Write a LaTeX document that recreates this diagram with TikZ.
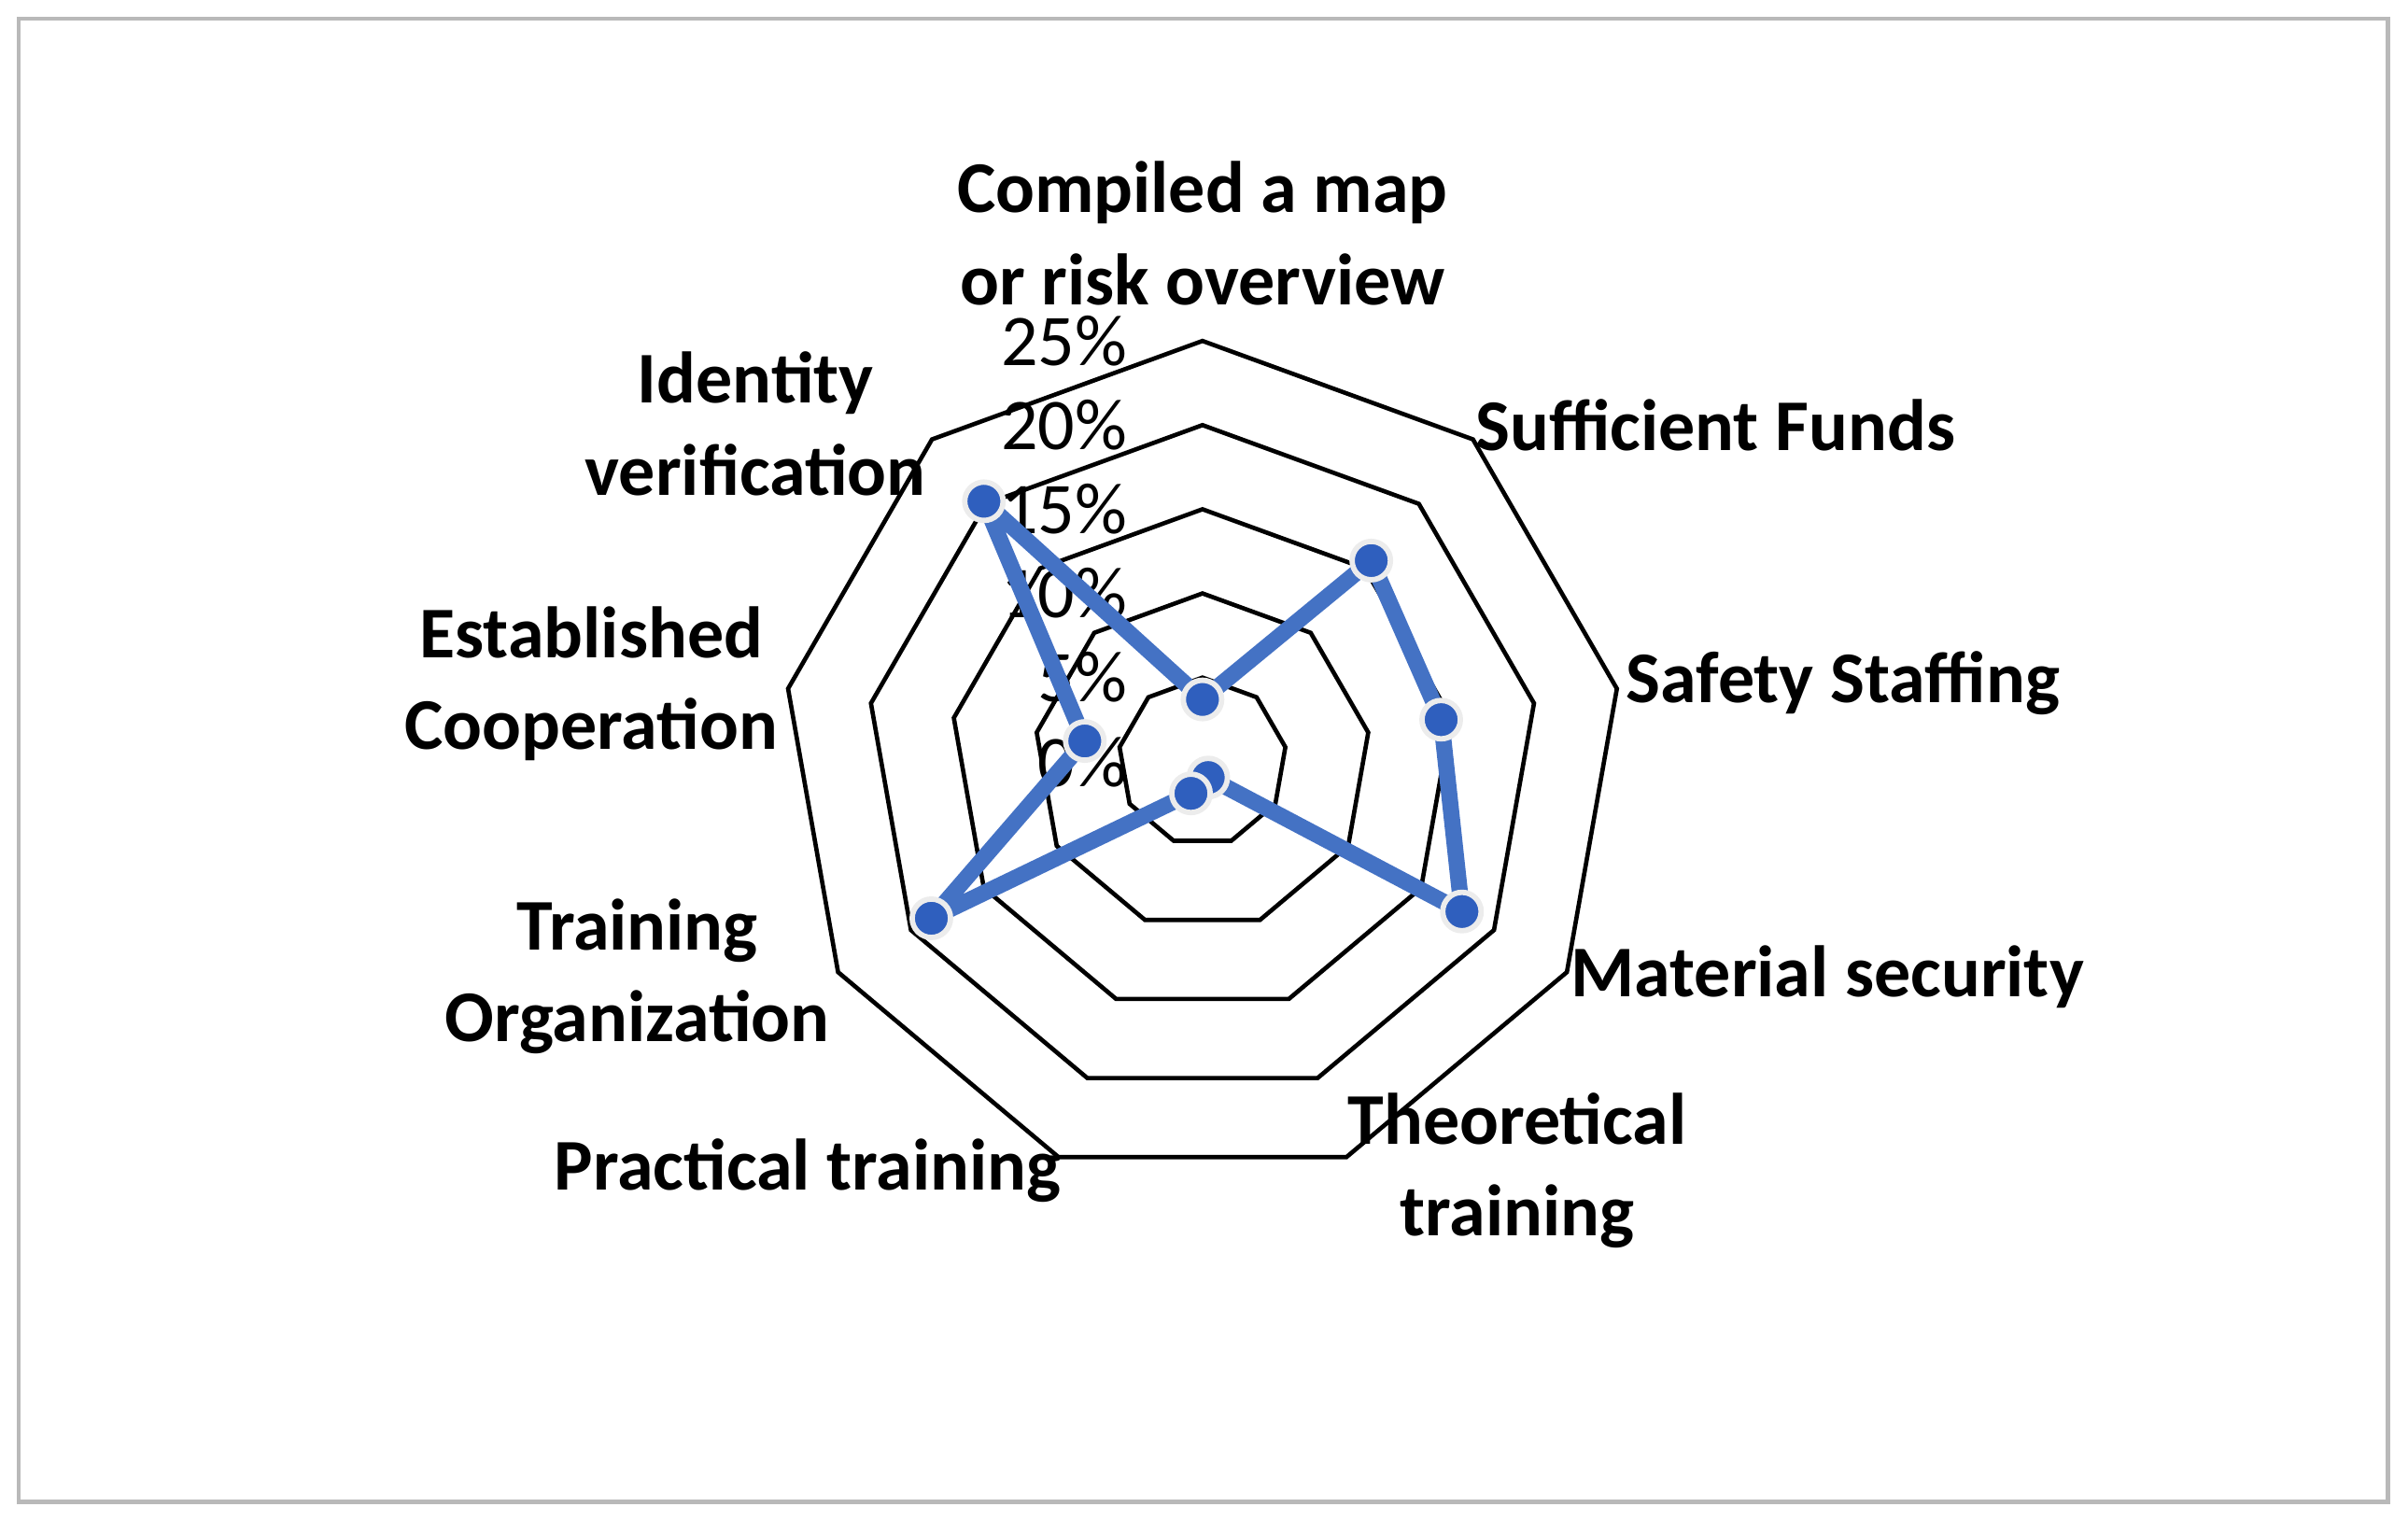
\documentclass[tikz,border=0pt]{standalone}
\usepackage{fontspec}
\setmainfont{Carlito}
\usetikzlibrary{calc}
\definecolor{serline}{RGB}{68,114,196}
\definecolor{serdot}{RGB}{47,95,190}
\begin{document}
\begin{tikzpicture}[x=0.02cm,y=-0.02cm,
  lbl/.style={font=\fontsize{27}{34}\selectfont\bfseries,align=center},
  pct/.style={font=\fontsize{27}{34}\selectfont,anchor=east},
  ring/.style={line width=1.6pt,black},
  dot/.style={circle,fill=serdot,draw=white!85!gray,line width=2pt,minimum size=0.5cm,inner sep=0pt}]
\useasboundingbox (0,0) rectangle (1568,990);
\draw[line width=1.5pt,gray!55] (12,12) rectangle (1555,978);
\coordinate (c) at (783,496);
\foreach \r in {1,...,5}{
  \draw[ring] ($(c)+(90:{\r*54.8} and {-\r*54.8})$) \foreach \k in {1,...,8}{ -- ($(c)+({90-40*\k}:{\r*54.8} and {-\r*54.8})$)} -- cycle;
}
\foreach \r/\t in {0/0\%,1/5\%,2/10\%,3/15\%,4/20\%,5/25\%}
  \node[pct] (p\r) at (740,{496-\r*54.8}) {\t};
\def\vals{3.7,15.6,14.4,17.8,1.0,2.0,18.6,7.1,20.2}
\foreach \v [count=\i from 0] in \vals
  \coordinate (d\i) at ($(c)+({90-40*\i}:{\v*10.96} and {-\v*10.96})$);
\draw[line width=6pt,serline,line join=round]
  (d0)--(d1)--(d2)--(d3)--(d4)--(d5)--(d6)--(d7)--(d8)--cycle;
\foreach \i in {0,...,8} \node[dot] (m\i) at (d\i) {};
\node[lbl] (l0) at (783,152) {Compiled a map\\or risk overview};
\node[lbl] (l1) at (1117,277) {Sufficient Funds};
\node[lbl] (l2) at (1200,445) {Safety Staffing};
\node[lbl] (l3) at (1190,636) {Material security};
\node[lbl] (l4) at (988,762) {Theoretical\\training};
\node[lbl] (l5) at (526,762) {Practical training};
\node[lbl] (l6) at (415,636) {Training\\Organization};
\node[lbl] (l7) at (385,445) {Established\\Cooperation};
\node[lbl] (l8) at (492,276) {Identity\\verification};
\end{tikzpicture}
\end{document}
